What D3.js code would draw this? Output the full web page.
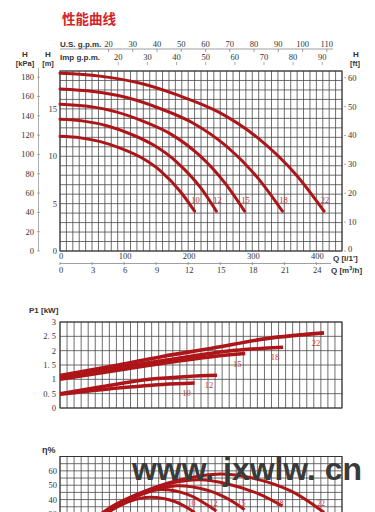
<!DOCTYPE html>
<html><head><meta charset="utf-8">
<script src="https://cdn.jsdelivr.net/npm/d3@7"></script>
<style>html,body{margin:0;padding:0;background:#fff}svg{display:block}</style>
</head><body>
<svg id="c" width="375" height="512"></svg>
<script>
// ---------- DATA ----------
const models = ["10", "12", "15", "18", "22"];
// Head curves: Q [l/min], H [m]
const hq10 = [0, 32, 63, 95, 126, 158, 189, 210];
const hh10 = [12.1, 11.94, 11.55, 10.84, 9.89, 8.39, 6.18, 4.2];
const hq12 = [0, 37, 73, 110, 146, 183, 220, 244];
const hh12 = [13.9, 13.71, 13.22, 12.35, 11.18, 9.34, 6.63, 4.2];
const hq15 = [0, 43, 86, 130, 173, 216, 259, 288];
const hh15 = [15.5, 15.27, 14.71, 13.69, 12.34, 10.19, 7.03, 4.2];
const hq18 = [0, 52, 104, 156, 208, 260, 312, 347];
const hh18 = [17.1, 16.84, 16.2, 15.04, 13.49, 11.04, 7.43, 4.2];
const hq22 = [0, 62, 124, 185, 247, 309, 371, 412];
const hh22 = [18.75, 18.46, 17.73, 16.42, 14.68, 11.91, 7.84, 4.2];
// Power curves: Q [l/min], P1 [kW]
const pq10 = [0, 60, 114, 160, 210];
const pp10 = [0.48, 0.63, 0.74, 0.82, 0.87];
const pq12 = [0, 60, 140, 200, 245];
const pp12 = [0.5, 0.72, 1.0, 1.1, 1.14];
const pq15 = [0, 100, 180, 240, 289];
const pp15 = [1.0, 1.35, 1.62, 1.8, 1.9];
const pq18 = [0, 100, 180, 260, 348];
const pp18 = [1.07, 1.45, 1.72, 1.98, 2.12];
const pq22 = [0, 91, 160, 239, 322, 412];
const pp22 = [1.13, 1.5, 1.8, 2.09, 2.42, 2.62];
// Efficiency curves: Q [l/min], eta [%]
const eq10 = [0, 40, 80, 110, 140, 180, 210];
const ee10 = [0, 20, 32.5, 39, 41.6, 38.5, 31];
const eq12 = [0, 40, 80, 120, 156, 200, 244];
const ee12 = [0, 21, 34, 43.5, 47, 43.5, 32];
const eq15 = [0, 40, 80, 130, 182, 230, 260, 288];
const ee15 = [0, 21, 33.5, 44, 49.6, 46.5, 41, 33];
const eq18 = [0, 40, 80, 130, 180, 218, 260, 310, 347];
const ee18 = [0, 21, 34, 45, 52, 53.8, 51, 44, 35.5];
const eq22 = [0, 40, 80, 130, 180, 245, 300, 360, 412];
const ee22 = [0, 21, 35, 45.5, 53, 57.7, 55, 46, 31];
// Tick labels
const usGpmTicks = [20, 30, 40, 50, 60, 70, 80, 90, 100, 110];
const impGpmTicks = [20, 30, 40, 50, 60, 70, 80, 90];
const kPaTicks = [0, 20, 40, 60, 80, 100, 120, 140, 160, 180];
const mTicks = [0, 5, 10, 15];
const ftTicks = [0, 10, 20, 30, 40, 50, 60];
const lminTicks = [0, 100, 200, 300, 400];
const m3hTicks = [0, 3, 6, 9, 12, 15, 18, 21, 24];
const kwTicks = [0, 0.5, 1, 1.5, 2, 2.5, 3];
const etaTicks = [30, 40, 50, 60];

// ---------- SETUP ----------
const svg = d3.select("#c");
const RED = "#ad1519", LRED = "#c8333a", GRID = "#4a4a4a";
const SERIF = "'Liberation Serif','DejaVu Serif',serif";
const SANS = "'Liberation Sans',Arial,sans-serif";

const x = d3.scaleLinear([0, 440], [60, 342]);
const yH = d3.scaleLinear([0, 19], [251, 71]);
const yP = d3.scaleLinear([0, 3], [408, 322]);
const yE = d3.scaleLinear([0, 70], [557, 456.5]);

const head = [[hq10, hh10], [hq12, hh12], [hq15, hh15], [hq18, hh18], [hq22, hh22]];
const power = [[pq10, pp10], [pq12, pp12], [pq15, pp15], [pq18, pp18], [pq22, pp22]];
const eff = [[eq10, ee10], [eq12, ee12], [eq15, ee15], [eq18, ee18], [eq22, ee22]];

svg.append("rect").attr("width", 375).attr("height", 512).attr("fill", "#fff");

// Title
svg.append("text").attr("x", 62).attr("y", 24)
  .attr("font-family", "'Noto Sans CJK SC',sans-serif").attr("font-weight", 700)
  .attr("font-size", 13.5).attr("fill", "#d2232a").text("性能曲线");

function grid(g, xs, ys, y0, y1) {
  xs.forEach(v => g.append("line").attr("x1", x(v)).attr("x2", x(v)).attr("y1", y0).attr("y2", y1)
    .attr("stroke", GRID).attr("stroke-width", 0.8));
  ys.forEach(v => g.append("line").attr("x1", x(0)).attr("x2", x(440)).attr("y1", v).attr("y2", v)
    .attr("stroke", GRID).attr("stroke-width", 0.8));
  g.append("rect").attr("x", x(0)).attr("y", Math.min(y0, y1)).attr("width", x(440) - x(0))
    .attr("height", Math.abs(y1 - y0)).attr("fill", "none").attr("stroke", "#333").attr("stroke-width", 1);
}
function label(t, xx, yy, opts = {}) {
  return svg.append("text").attr("x", xx).attr("y", yy)
    .attr("font-family", opts.font || SERIF).attr("font-size", opts.size || 8.5)
    .attr("font-weight", opts.bold ? 700 : 400).attr("fill", opts.fill || "#333")
    .attr("text-anchor", opts.anchor || "start").text(t);
}

// ---------- HEAD CHART ----------
const gH = svg.append("g");
grid(gH, d3.range(0, 441, 10), d3.range(0, 20, 1).map(yH), yH(0), yH(19));

// top gpm axes
label("U.S. g.p.m.", 60, 47, {font: SANS, bold: true, size: 8});
svg.append("line").attr("x1", 60).attr("x2", 333).attr("y1", 49).attr("y2", 49).attr("stroke", "#777").attr("stroke-width", 0.7);
usGpmTicks.forEach(v => {
  const px = x(v * 3.785);
  label(v, px, 47, {anchor: "middle"});
  svg.append("line").attr("x1", px).attr("x2", px).attr("y1", 49).attr("y2", 52).attr("stroke", "#777").attr("stroke-width", 0.7);
});
label("Imp g.p.m.", 60, 60, {font: SANS, bold: true, size: 8});
impGpmTicks.forEach(v => {
  const px = x(v * 4.546);
  label(v, px, 60, {anchor: "middle"});
  svg.append("line").attr("x1", px).attr("x2", px).attr("y1", 62).attr("y2", 65).attr("stroke", "#888").attr("stroke-width", 0.7);
});

// axis titles
label("H", 25, 57, {font: SANS, bold: true, size: 8, anchor: "middle"});
label("[kPa]", 25, 66, {font: SANS, bold: true, size: 7.5, anchor: "middle"});
label("H", 48, 57, {font: SANS, bold: true, size: 8, anchor: "middle"});
label("[m]", 48, 66, {font: SANS, bold: true, size: 7.5, anchor: "middle"});
label("H", 356, 57, {font: SANS, bold: true, size: 8, anchor: "middle"});
label("[ft]", 355, 66, {font: SANS, bold: true, size: 7.5, anchor: "middle"});

// kPa axis
svg.append("line").attr("x1", 38.5).attr("x2", 38.5).attr("y1", 68).attr("y2", yH(0)).attr("stroke", "#999").attr("stroke-width", 0.8);
kPaTicks.forEach(v => {
  const py = yH(v / 9.81);
  label(v, 34, py + 3, {anchor: "end"});
  svg.append("line").attr("x1", 37).attr("x2", 40).attr("y1", py).attr("y2", py).attr("stroke", "#999").attr("stroke-width", 0.8);
});
mTicks.forEach(v => label(v, 57, yH(v) + 3, {anchor: "end"}));
ftTicks.forEach(v => {
  const py = yH(v * 0.3048);
  label(v, 348, py + (v === 0 ? 1 : 3));
  svg.append("line").attr("x1", 344).attr("x2", 346).attr("y1", py).attr("y2", py).attr("stroke", "#999").attr("stroke-width", 0.8);
});

// bottom axes
lminTicks.forEach(v => label(v, x(v) + 1, 259, {anchor: "middle"}));
label("Q [l/1']", 333, 261, {font: SANS, bold: true, size: 8});
svg.append("line").attr("x1", 60).attr("x2", 331).attr("y1", 263.5).attr("y2", 263.5).attr("stroke", "#888").attr("stroke-width", 0.8);
m3hTicks.forEach(v => {
  const px = x(v * 100 / 6);
  svg.append("line").attr("x1", px).attr("x2", px).attr("y1", 262).attr("y2", 265).attr("stroke", "#888").attr("stroke-width", 0.8);
  label(v, px + 1, 272.5, {anchor: "middle"});
});
const qm = label("Q [m", 331, 273, {font: SANS, bold: true, size: 8});
qm.append("tspan").attr("font-size", 5.5).attr("dy", -3).text("3");
qm.append("tspan").attr("dy", 3).text("/h]");

const lineH = d3.line().x(d => x(d[0])).y(d => yH(d[1])).curve(d3.curveMonotoneX);
head.forEach(([qs, vs], i) => {
  const pts = qs.map((q, k) => [q, vs[k]]);
  gH.append("path").attr("d", lineH(pts)).attr("fill", "none").attr("stroke", RED)
    .attr("stroke-width", 3).attr("stroke-linecap", "round");
  const last = pts[pts.length - 1];
  label(models[i], x(last[0]) + 1, yH(last[1]) - 8, {anchor: "middle", fill: LRED, size: 8.5});
});

// ---------- POWER CHART ----------
const gP = svg.append("g");
grid(gP, d3.range(0, 441, 11), kwTicks.map(yP), yP(0), yP(3));
label("P1 [kW]", 29, 313, {font: SANS, bold: true, size: 8});
kwTicks.forEach(v => label(String(v).replace(".", ". "), 56, yP(v) + 3, {anchor: "end"}));
const lineP = d3.line().x(d => x(d[0])).y(d => yP(d[1])).curve(d3.curveMonotoneX);
power.forEach(([qs, vs], i) => {
  const pts = qs.map((q, k) => [q, vs[k]]);
  gP.append("path").attr("d", lineP(pts)).attr("fill", "none").attr("stroke", RED)
    .attr("stroke-width", 3.6);
  const last = pts[pts.length - 1];
  label(models[i], x(last[0]) - 8, yP(last[1]) + 13, {anchor: "middle", fill: LRED, size: 8.5});
});

// ---------- EFFICIENCY CHART ----------
const gE = svg.append("g");
grid(gE, d3.range(0, 441, 11), d3.range(0, 71, 5).map(yE), yE(0), yE(70));
label("η%", 42, 453, {font: SANS, bold: true, size: 9});
etaTicks.forEach(v => label(v, 57, yE(v) + 3, {anchor: "end"}));
const lineE = d3.line().x(d => x(d[0])).y(d => yE(d[1])).curve(d3.curveCatmullRom);
eff.forEach(([qs, vs], i) => {
  const pts = qs.map((q, k) => [q, vs[k]]);
  gE.append("path").attr("d", lineE(pts)).attr("fill", "none").attr("stroke", RED)
    .attr("stroke-width", 3);
  const last = pts[pts.length - 1];
  label(models[i], x(last[0]) - 3, 506, {anchor: "middle", fill: LRED, size: 8});
});

// watermark
svg.append("text").attr("x", 132).attr("y", 480)
  .attr("font-family", SANS).attr("font-weight", 700).attr("font-size", 32)
  .attr("textLength", 230).attr("lengthAdjust", "spacingAndGlyphs")
  .attr("fill", "#3a3a3a").text("www. jxwlw. cn");
</script>
</body></html>
